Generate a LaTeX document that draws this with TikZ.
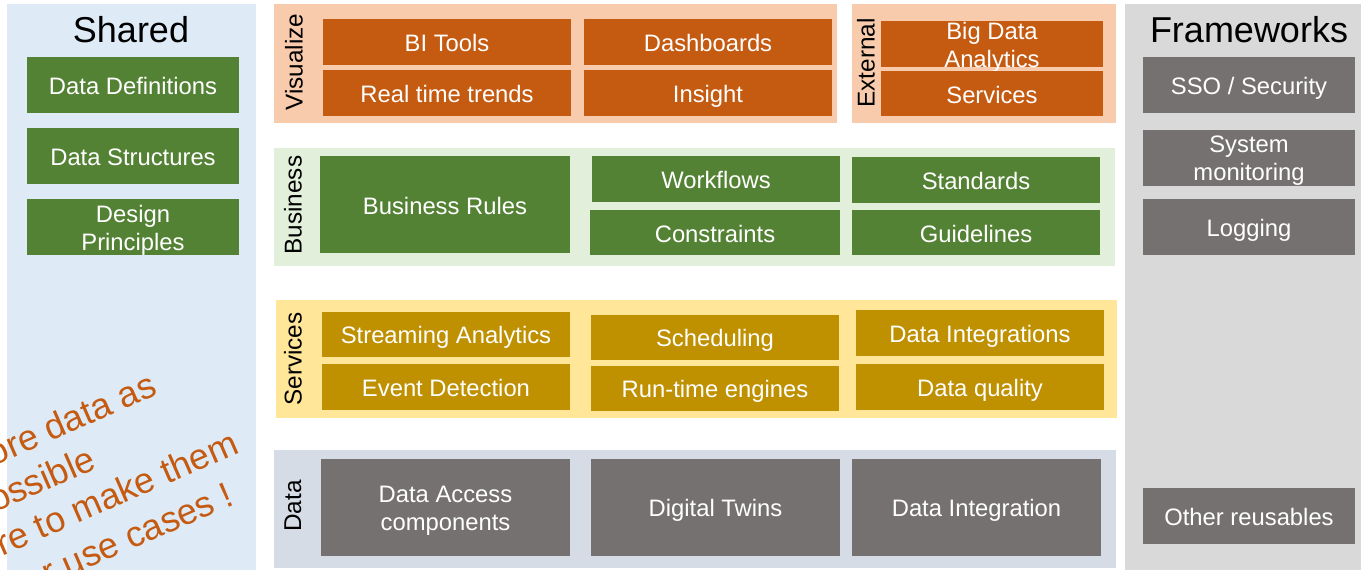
\documentclass[tikz,border=0pt]{standalone}
\usepackage{fontspec}
\setmainfont{Liberation Sans}
\definecolor{obox}{HTML}{C55A11}
\definecolor{opanel}{HTML}{F8CBAD}
\definecolor{gbox}{HTML}{548235}
\definecolor{gpanel}{HTML}{E2EFDA}
\definecolor{ybox}{HTML}{BF9000}
\definecolor{ypanel}{HTML}{FFE699}
\definecolor{kbox}{HTML}{767171}
\definecolor{dpanel}{HTML}{D6DCE5}
\definecolor{spanel}{HTML}{DEEBF7}
\definecolor{fpanel}{HTML}{D9D9D9}
\newcommand\boxfont{\fontsize{23.8}{28}\selectfont}
\newcommand\titlefont{\fontsize{36}{40}\selectfont}
\newcommand\lblfont{\fontsize{24.3}{28}\selectfont}
\newcommand\notefont{\fontsize{36}{42}\selectfont}
\newcommand\sr{\rule[-4pt]{0pt}{27pt}}
\tikzset{
  bx/.style={inner sep=0pt, align=center, text=white, font=\boxfont, anchor=center, execute at begin node=\sr},
  btxt/.style={bx, yshift=-3pt},
  obx/.style={bx, fill=obox},
  gbx/.style={bx, fill=gbox},
  ybx/.style={bx, fill=ybox},
  kbx/.style={bx, fill=kbox},
  ttl/.style={inner sep=0pt, font=\titlefont, text=black},
  lbl/.style={inner sep=0pt, font=\lblfont, text=black, rotate=90},
  note/.style={inner sep=0pt, font=\notefont, text=obox, rotate=23.6, anchor=base east},
}
\begin{document}
\begin{tikzpicture}[x=1pt,y=-1pt]
\useasboundingbox (0,0) rectangle (1361,570);
\fill[white] (0,0) rectangle (1361,570);
% panels
\fill[spanel] (7,4) rectangle (256,570);
\fill[fpanel] (1125,4) rectangle (1361,570);
\fill[opanel] (274,4) rectangle (837,123);
\fill[opanel] (852,4) rectangle (1116,123);
\fill[gpanel] (274,148) rectangle (1115,266);
\fill[ypanel] (276,300) rectangle (1117,418);
\fill[dpanel] (274,450) rectangle (1116,568);
% titles
\node[ttl] (tshared) at (131,30) {Shared};
\node[ttl] (tfw) at (1249,30) {Frameworks};
% shared
\node[gbx, minimum width=212pt, minimum height=56pt] (dd) at (133,85) {Data Definitions};
\node[gbx, minimum width=212pt, minimum height=56pt] (ds) at (133,156) {Data Structures};
\node[gbx, minimum width=212pt, minimum height=56pt] (dp) at (133,227) {};
\node[btxt] (dpt) at (dp.center) {Design\\\sr Principles};
% frameworks
\node[kbx, minimum width=212pt, minimum height=56pt] (sso) at (1249,85) {SSO / Security};
\node[kbx, minimum width=212pt, minimum height=56pt] (mon) at (1249,158) {};
\node[btxt] (mont) at (mon.center) {System\\\sr monitoring};
\node[kbx, minimum width=212pt, minimum height=56pt] (log) at (1249,227) {Logging};
\node[kbx, minimum width=212pt, minimum height=56pt] (oth) at (1249,516) {Other reusables};
% visualize
\node[lbl] (lvis) at (294,62) {Visualize};
\node[obx, minimum width=248pt, minimum height=46pt] (bi) at (447,42) {BI Tools};
\node[obx, minimum width=248pt, minimum height=46pt] (dash) at (708,42) {Dashboards};
\node[obx, minimum width=248pt, minimum height=46pt] (rtt) at (447,93) {Real time trends};
\node[obx, minimum width=248pt, minimum height=46pt] (ins) at (708,93) {Insight};
% external
\node[lbl] (lext) at (866,63) {External};
\node[obx, minimum width=222pt, minimum height=46pt] (bda) at (992,44) {};
\node[btxt] (bdat) at (bda.center) {Big Data\\\sr Analytics};
\node[obx, minimum width=222pt, minimum height=45pt] (esv) at (992,93.5) {Services};
% business
\node[lbl] (lbus) at (293,205) {Business};
\node[gbx, minimum width=250pt, minimum height=97pt] (br) at (445,204.5) {Business Rules};
\node[gbx, minimum width=248pt, minimum height=46pt] (wf) at (716,179) {Workflows};
\node[gbx, minimum width=250pt, minimum height=45pt] (con) at (715,232.5) {Constraints};
\node[gbx, minimum width=248pt, minimum height=46pt] (std) at (976,180) {Standards};
\node[gbx, minimum width=248pt, minimum height=45pt] (gl) at (976,232.5) {Guidelines};
% services
\node[lbl] (lsrv) at (293,359) {Services};
\node[ybx, minimum width=248pt, minimum height=45pt] (sa) at (446,334.5) {Streaming Analytics};
\node[ybx, minimum width=248pt, minimum height=46pt] (ed) at (446,387) {Event Detection};
\node[ybx, minimum width=248pt, minimum height=45pt] (sch) at (715,337.5) {Scheduling};
\node[ybx, minimum width=248pt, minimum height=45pt] (rte) at (715,388.5) {Run-time engines};
\node[ybx, minimum width=248pt, minimum height=46pt] (dis) at (980,333) {Data Integrations};
\node[ybx, minimum width=248pt, minimum height=46pt] (dq) at (980,387) {Data quality};
% data
\node[lbl] (ldat) at (293,506) {Data};
\node[kbx, minimum width=249pt, minimum height=97pt] (dac) at (445.5,507.5) {};
\node[btxt] (dact) at (dac.center) {Data Access\\\sr components};
\node[kbx, minimum width=249pt, minimum height=97pt] (dt) at (715.5,507.5) {Digital Twins};
\node[kbx, minimum width=249pt, minimum height=97pt] (di) at (976.5,507.5) {Data Integration};
% note
\begin{scope}
\clip (0,0) rectangle (1361,570);
\node[note] (n1) at (159,394) {Share more data as};
\node[note] (n2) at (98,468) {much as possible};
\node[note] (n3) at (241,452) {Make sure to make them};
\node[note] (n4) at (236,504) {usable for other use cases !};
\end{scope}
\end{tikzpicture}
\end{document}
